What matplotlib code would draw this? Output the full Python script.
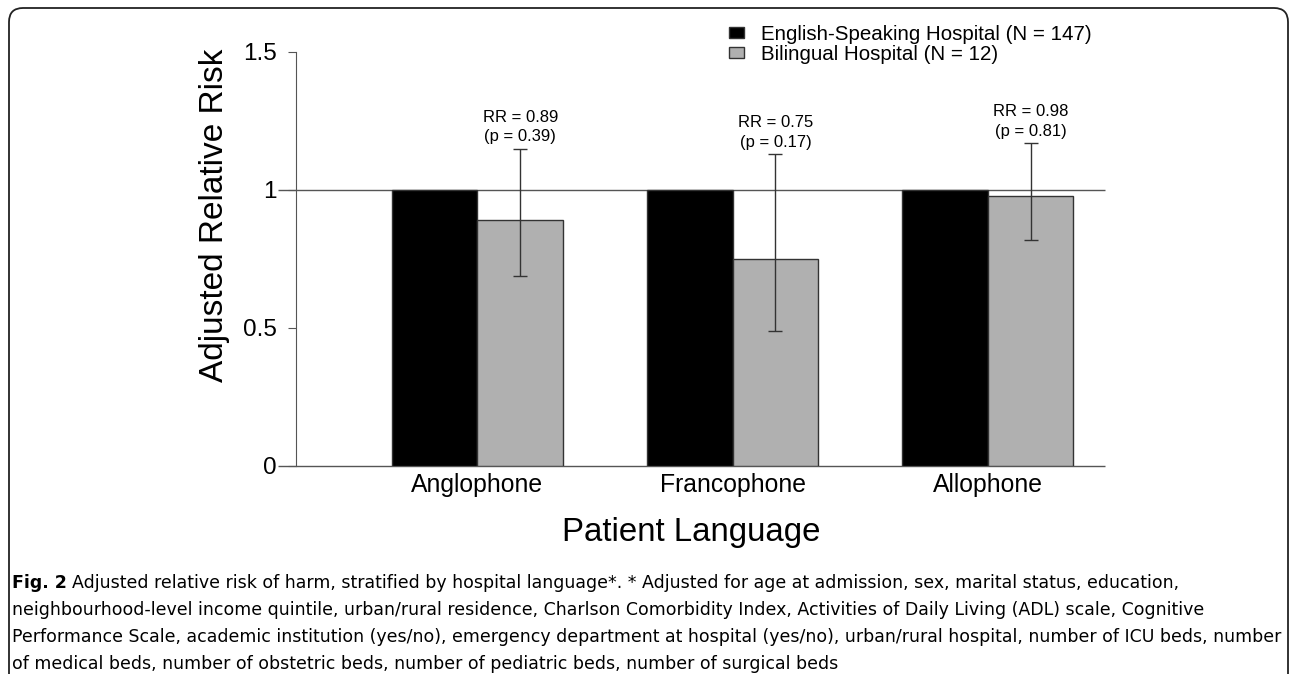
import numpy as np
import matplotlib
matplotlib.use("Agg")
import matplotlib.pyplot as plt
from matplotlib.patches import FancyBboxPatch
from matplotlib.transforms import IdentityTransform

# data
languages = ["Anglophone", "Francophone", "Allophone"]
english_rr = [1.0, 1.0, 1.0]
bilingual_rr = [0.89, 0.75, 0.98]
ci_low = [0.69, 0.49, 0.82]
ci_high = [1.15, 1.13, 1.17]
p_values = [0.39, 0.17, 0.81]
series_names = ["English-Speaking Hospital (N = 147)", "Bilingual Hospital (N = 12)"]

plt.rcParams['font.family'] = ['Liberation Sans', 'DejaVu Sans']

fig = plt.figure(figsize=(12.9, 6.74), dpi=100)
ax = fig.add_axes([296/1290, 1 - 466/674, (1105 - 296)/1290, (466 - 52)/674])

x = np.arange(len(languages))
w = 0.336
b1 = ax.bar(x - w/2, english_rr, w, color='black', edgecolor='#333333', linewidth=1, zorder=2,
            label=series_names[0])
b2 = ax.bar(x + w/2, bilingual_rr, w, color='#b0b0b0', edgecolor='#333333', linewidth=1, zorder=2,
            label=series_names[1])

rr = np.array(bilingual_rr)
yerr = [rr - np.array(ci_low), np.array(ci_high) - rr]
ax.errorbar(x + w/2, rr, yerr=yerr, fmt='none', ecolor='#333333', elinewidth=1, capsize=5,
            capthick=1, zorder=3)

for i in range(len(languages)):
    ax.annotate("RR = %.2f\n(p = %.2f)" % (bilingual_rr[i], p_values[i]),
                (x[i] + w/2, ci_high[i]), xytext=(0, 3), textcoords='offset points',
                ha='center', va='bottom', fontsize=12, linespacing=1.4)

xl, xr = -0.711, 2.46
ax.set_xlim(xl, xr)
ax.set_ylim(0, 1.5)
# reference lines at 0 and 1 run a little past the y axis
ax.hlines([0, 1], xl - 0.07, xr, colors='#555555', linewidth=1, clip_on=False, zorder=1)

for s in ['top', 'right', 'bottom']:
    ax.spines[s].set_visible(False)
ax.spines['left'].set_color('#555555')
ax.set_yticks([0, 0.5, 1, 1.5])
ax.set_yticklabels(['0', '0.5', '1', '1.5'], fontsize=17.5)
ax.tick_params(axis='y', length=6, color='#555555', pad=8)
ax.set_xticks(x)
ax.set_xticklabels(languages, fontsize=17.8)
ax.tick_params(axis='x', length=0, pad=5)

fig.text(215/1290, 1 - 215/674, "Adjusted Relative Risk", rotation=90, fontsize=24,
         ha='center', va='center')
fig.text(691/1290, 1 - 533/674, "Patient Language", fontsize=23.8, ha='center', va='center')

fig.legend(handles=[b1, b2], loc='upper left', bbox_to_anchor=(729/1290, 1 - 25/674),
           frameon=False, fontsize=14.8, handlelength=0.72, handleheight=0.4,
           handletextpad=0.85, labelspacing=0.05, borderpad=0, borderaxespad=0)

# caption
cap_font = ['DejaVu Sans']
lines = [
    "Adjusted relative risk of harm, stratified by hospital language*. * Adjusted for age at admission, sex, marital status, education,",
    "neighbourhood-level income quintile, urban/rural residence, Charlson Comorbidity Index, Activities of Daily Living (ADL) scale, Cognitive",
    "Performance Scale, academic institution (yes/no), emergency department at hospital (yes/no), urban/rural hospital, number of ICU beds, number",
    "of medical beds, number of obstetric beds, number of pediatric beds, number of surgical beds",
]
y0 = 583
t = fig.text(12/1290, 1 - y0/674, "Fig. 2", fontsize=12.5, fontweight='bold', family=cap_font,
             va='center', ha='left')
fig.canvas.draw()
bb = t.get_window_extent()
fig.text((bb.x1 + 5)/1290, 1 - y0/674, lines[0], fontsize=12.5, family=cap_font,
         va='center', ha='left')
for k in range(1, 4):
    fig.text(12/1290, 1 - (y0 + 27*k)/674, lines[k], fontsize=12.5, family=cap_font,
             va='center', ha='left')

# rounded frame around the figure block
frame = FancyBboxPatch((9, -30), 1279, 674 - 8 + 30, boxstyle="round,pad=0,rounding_size=14",
                       transform=IdentityTransform(), fill=False, edgecolor='#222222',
                       linewidth=1.3)
fig.add_artist(frame)

fig.savefig("out.png", dpi=100)
